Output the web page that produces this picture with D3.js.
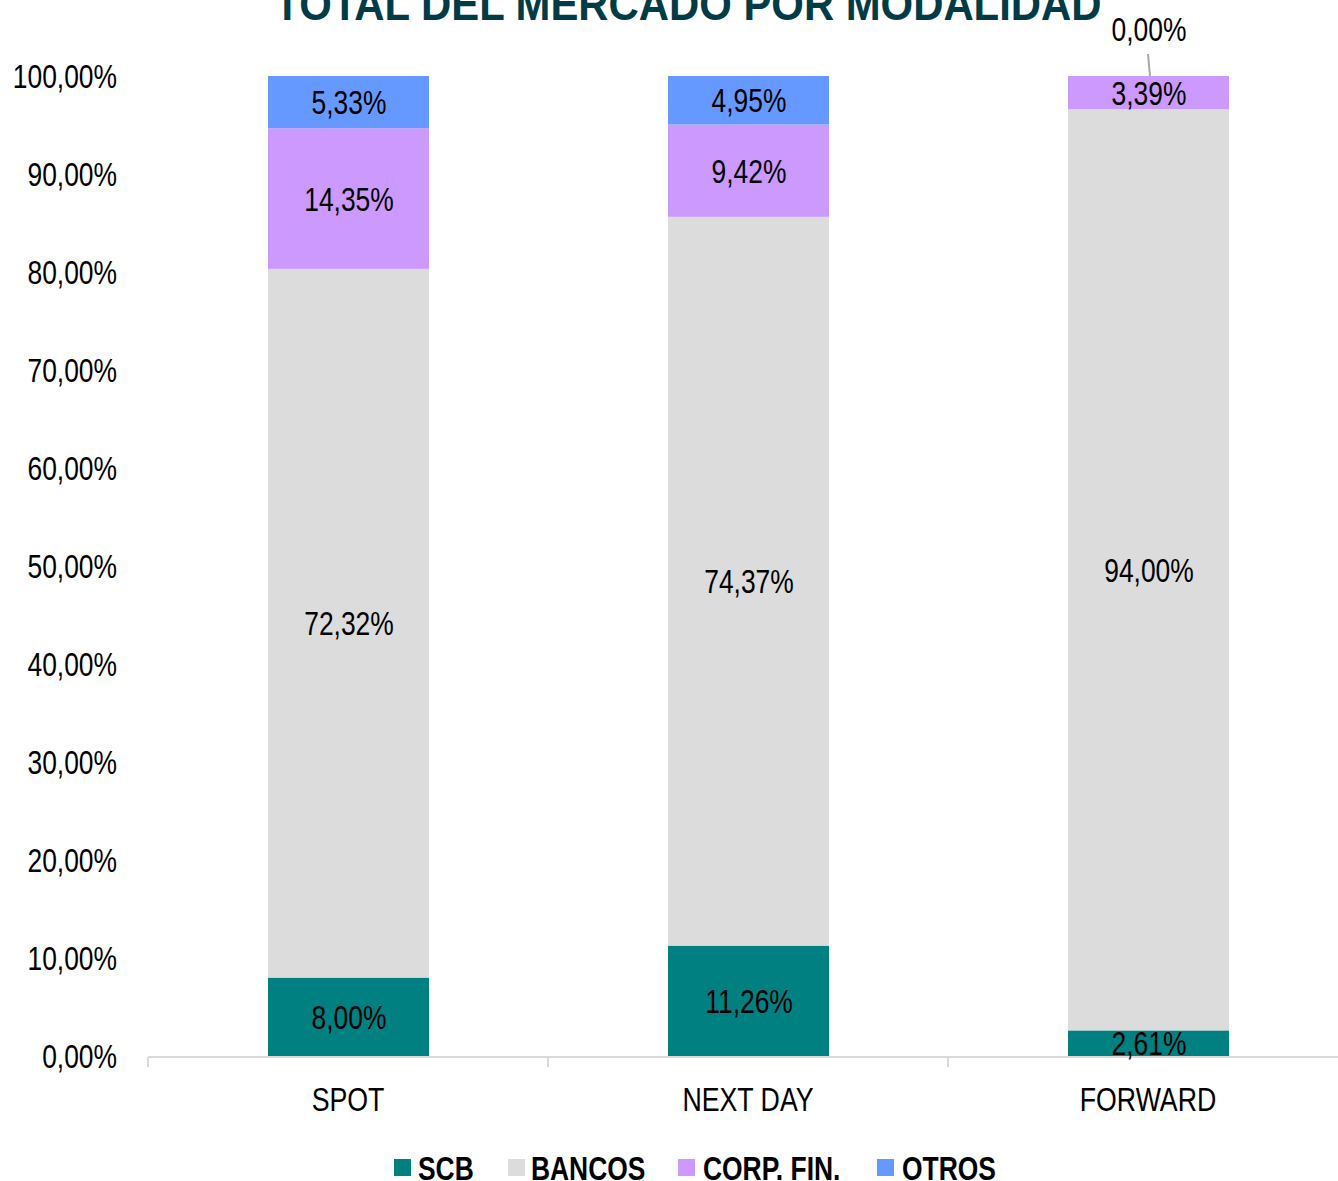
<!DOCTYPE html>
<html>
<head>
<meta charset="utf-8">
<script src="https://cdn.jsdelivr.net/npm/d3@7/dist/d3.min.js"></script>
<style>
  html, body { margin: 0; padding: 0; background: #fff; }
  svg text { font-family: "Liberation Sans", Arial, sans-serif; }
</style>
</head>
<body>
<svg id="chart" width="1338" height="1181"></svg>
<script>
// Market share by trading modality (stacked to 100%)
const categories = ["SPOT", "NEXT DAY", "FORWARD"];
const seriesNames = ["SCB", "BANCOS", "CORP. FIN.", "OTROS"];
const scbValues = [8.00, 11.26, 2.61];
const bancosValues = [72.32, 74.37, 94.00];
const corpFinValues = [14.35, 9.42, 3.39];
const otrosValues = [5.33, 4.95, 0.00];
const yTicks = [0, 10, 20, 30, 40, 50, 60, 70, 80, 90, 100];
const colors = ["#008080", "#dcdcdc", "#cc99ff", "#6699ff"];

const seriesValues = [scbValues, bancosValues, corpFinValues, otrosValues];
const rows = categories.map((c, i) => {
  const r = { cat: c };
  seriesNames.forEach((s, j) => { r[s] = seriesValues[j][i]; });
  return r;
});

const svg = d3.select("#chart");
const margin = { left: 148, top: 76, bottom: 1056 };
const plotRight = 1348;

const x = d3.scaleBand().domain(categories).range([margin.left, plotRight]).paddingInner(0).paddingOuter(0);
const y = d3.scaleLinear().domain([0, 100]).range([margin.bottom, margin.top]);
const barW = x.bandwidth() * 0.4;

const fmt = v => d3.format(".2f")(v).replace(".", ",") + "%";

// condensed text: horizontal squeeze around the anchor point
const NARROW = 0.8;
function addText(parent, tx, ty, str, opts = {}) {
  const sx = opts.sx || NARROW;
  return parent.append("text")
    .attr("transform", `translate(${tx},${ty}) scale(${sx},1)`)
    .attr("text-anchor", opts.anchor || "middle")
    .attr("font-size", opts.size || 33)
    .attr("font-weight", opts.weight || "normal")
    .attr("fill", opts.fill || "#000")
    .text(str);
}

const stack = d3.stack().keys(seriesNames)(rows);

// bars
const layers = svg.append("g").selectAll("g").data(stack).join("g")
  .attr("fill", (d, i) => colors[i]);
layers.selectAll("rect").data(d => d).join("rect")
  .attr("x", d => x(d.data.cat) + (x.bandwidth() - barW) / 2)
  .attr("width", barW + 1)
  .attr("y", d => y(d[1]))
  .attr("height", d => y(d[0]) - y(d[1]));

// x axis line and ticks
const axisG = svg.append("g");
axisG.append("line")
  .attr("x1", margin.left).attr("x2", plotRight)
  .attr("y1", y(0) + 1).attr("y2", y(0) + 1)
  .attr("stroke", "#d9d9d9").attr("stroke-width", 2);
const tickXs = categories.map(c => x(c)).concat([x(categories[categories.length - 1]) + x.bandwidth()]);
axisG.selectAll("line.tick").data(tickXs).join("line")
  .attr("class", "tick")
  .attr("x1", d => d).attr("x2", d => d)
  .attr("y1", y(0) + 1).attr("y2", y(0) + 11)
  .attr("stroke", "#d9d9d9").attr("stroke-width", 2);
categories.forEach(c => addText(axisG, x(c) + x.bandwidth() / 2, 1111, c, { sx: 0.81 }));

// y tick labels
const yG = svg.append("g");
yTicks.forEach(t => addText(yG, 117, y(t) + 12, fmt(t), { anchor: "end" }));

// value labels
const labelG = svg.append("g");
stack.forEach(layer => {
  layer.forEach(d => {
    const v = d.data[layer.key];
    const cx = x(d.data.cat) + x.bandwidth() / 2;
    let cy = (y(d[0]) + y(d[1])) / 2;
    if (v === 0) {
      // zero-height segment: label lifted above the bar with a leader line
      const top = y(d[1]);
      labelG.append("line")
        .attr("x1", cx).attr("y1", top - 22)
        .attr("x2", cx + 2).attr("y2", top)
        .attr("stroke", "#a6a6a6").attr("stroke-width", 2);
      cy = top - 47;
    }
    addText(labelG, cx + 1, cy + 12, fmt(v));
  });
});

// title
addText(svg, 688, 20, "TOTAL DEL MERCADO POR MODALIDAD",
  { size: 46, weight: "bold", fill: "#003b46", sx: 0.91 });

// legend
const legendItems = [
  { sx: 394, tx: 418 },
  { sx: 508, tx: 531 },
  { sx: 678, tx: 703 },
  { sx: 877, tx: 902 }
];
const lg = svg.append("g");
seriesNames.forEach((name, i) => {
  const it = legendItems[i];
  lg.append("rect").attr("x", it.sx).attr("y", 1159).attr("width", 17).attr("height", 17).attr("fill", colors[i]);
  addText(lg, it.tx, 1180, name, { anchor: "start", weight: "bold", sx: 0.8 });
});
</script>
</body>
</html>
